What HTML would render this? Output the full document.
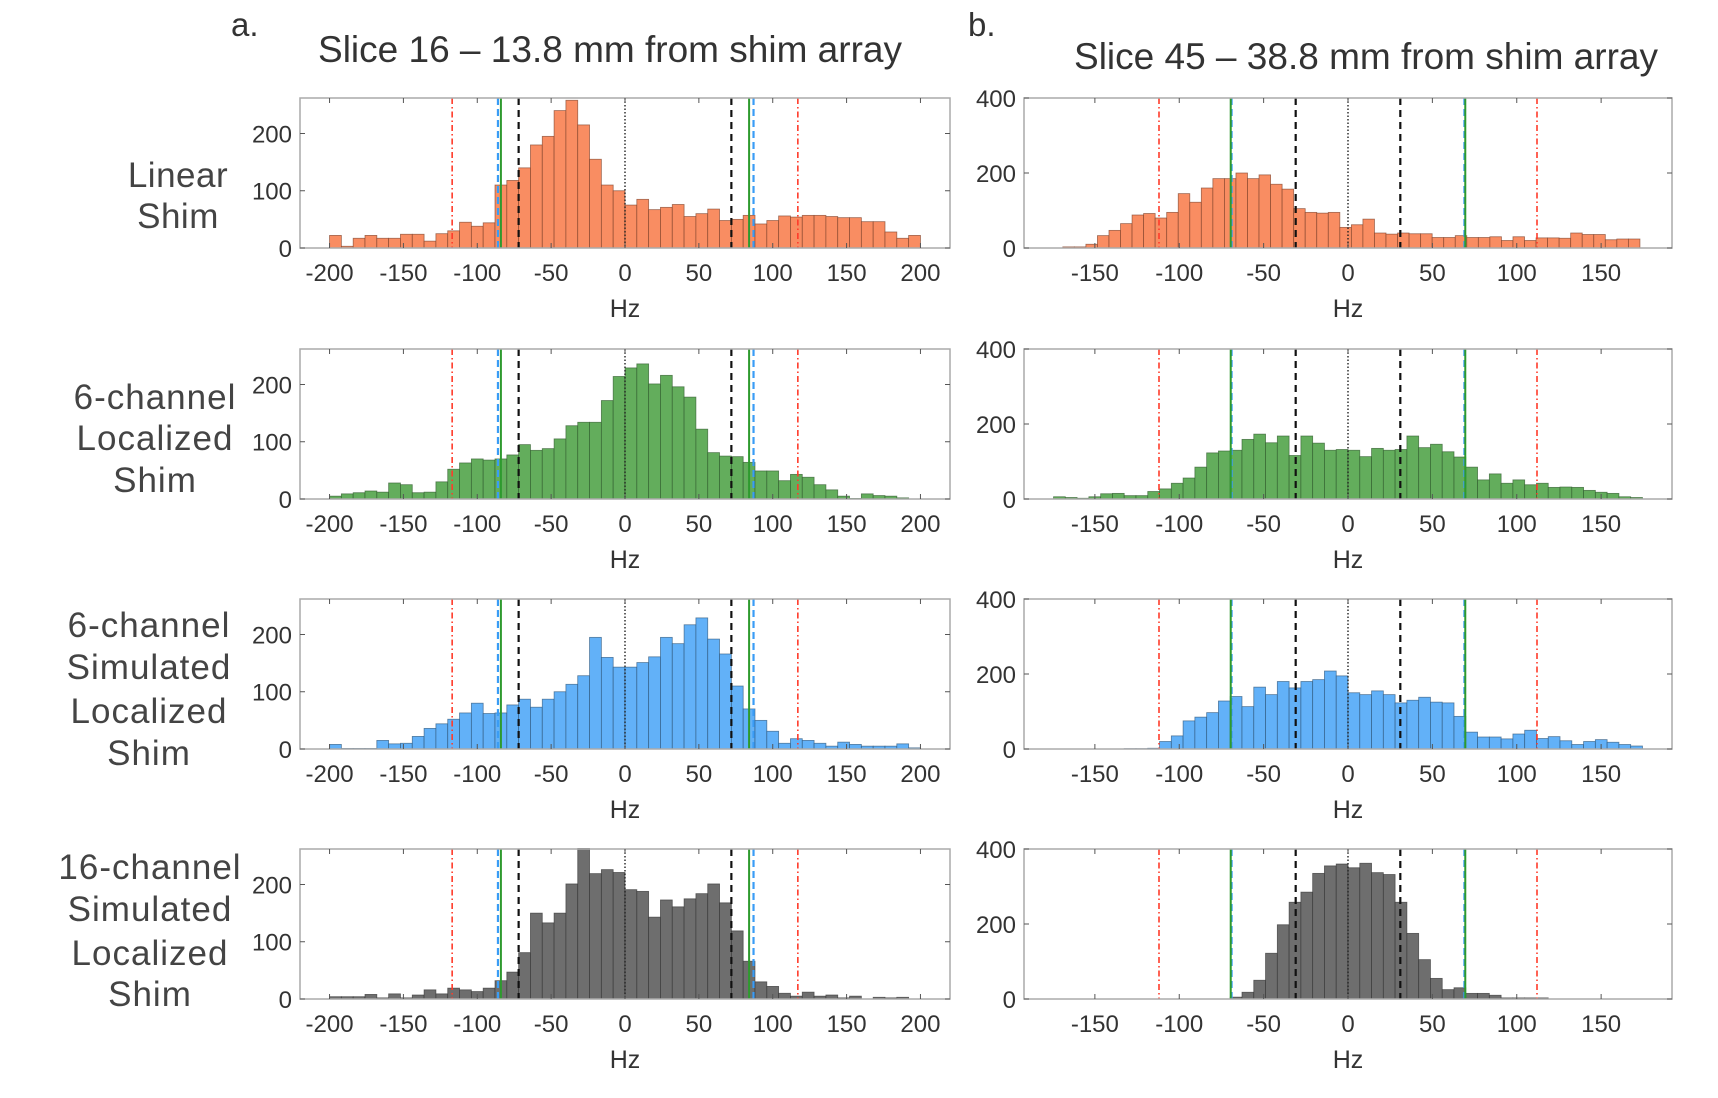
<!DOCTYPE html>
<html><head><meta charset="utf-8"><style>
body{margin:0;background:#fff}
svg{display:block;font-family:"Liberation Sans",Arial,sans-serif}
</style></head><body>
<svg id="fig" width="1718" height="1098" viewBox="0 0 1718 1098" xmlns="http://www.w3.org/2000/svg">
<text x="231" y="36" font-size="33" fill="#333">a.</text>
<text x="610" y="62" font-size="37" fill="#333" text-anchor="middle">Slice 16 – 13.8 mm from shim array</text>
<text x="968" y="36" font-size="33" fill="#333">b.</text>
<text x="1366" y="69" font-size="37" fill="#333" text-anchor="middle">Slice 45 – 38.8 mm from shim array</text>
<g font-size="35" fill="#444" text-anchor="middle" letter-spacing="0.5">
<text x="178" y="187">Linear</text><text x="178" y="228">Shim</text></g>
<g font-size="35" fill="#444" text-anchor="middle" letter-spacing="1">
<text x="155" y="409">6-channel</text><text x="155" y="450">Localized</text><text x="155" y="492">Shim</text></g>
<g font-size="35" fill="#444" text-anchor="middle" letter-spacing="1">
<text x="149" y="637">6-channel</text><text x="149" y="679">Simulated</text><text x="149" y="723">Localized</text><text x="149" y="765">Shim</text></g>
<g font-size="35" fill="#444" text-anchor="middle" letter-spacing="1">
<text x="150" y="879">16-channel</text><text x="150" y="921">Simulated</text><text x="150" y="965">Localized</text><text x="150" y="1006">Shim</text></g>
</svg>
<script>
// Left column (slice 16): 50 bins of 8 Hz from -200
const leftBinStart = -200, leftBinWidth = 8;
const leftLinear = [22,3,17,22,17,17,24,24,12,25,30,45,38,44,110,118,140,180,195,240,258,215,155,110,100,75,85,67,71,76,55,60,68,48,50,57,42,48,56,54,57,57,55,53,53,46,46,28,17,22];
const left6ch = [5,9,11,14,12,28,25,11,12,30,52,63,70,68,70,77,95,85,88,105,128,134,134,172,214,229,236,201,216,196,178,122,81,75,74,64,49,49,32,43,38,25,16,5,1,9,6,5,2,0];
const left6chSim = [8,1,1,1,15,9,10,22,36,44,52,63,80,62,63,77,87,73,87,100,113,128,195,160,143,143,151,161,195,184,217,229,192,166,110,70,50,31,10,18,15,10,5,12,8,5,5,5,9,2];
const left16chSim = [4,4,4,8,2,9,2,7,16,9,19,16,13,19,32,47,81,150,133,150,201,263,219,226,221,191,188,143,173,161,175,184,201,168,119,66,30,22,10,5,12,5,7,2,5,0,3,2,3,0];
// Right column (slice 45)
const rightRow1Start = -169, rightRow1Width = 6.84;
const rightBinStart = -174.5, rightBinWidth = 6.98;
const rightLinear = [3,3,10,33,47,65,88,92,80,95,145,122,160,185,185,200,185,195,170,157,105,95,93,95,55,62,77,40,37,40,38,38,28,28,33,28,28,30,20,30,20,27,27,26,40,36,36,22,24,24];
const right6ch = [6,4,2,6,14,15,9,9,20,27,42,56,85,123,128,130,159,173,150,168,116,168,149,130,132,130,113,135,130,132,168,137,146,126,112,85,51,67,42,51,38,42,31,32,31,23,18,15,6,4];
const right6chSim = [0,0,0,0,0,0,1,1,2,20,35,75,85,97,128,140,113,165,145,180,163,180,185,208,195,150,145,155,145,123,130,138,125,123,87,45,32,32,27,40,50,28,33,22,12,20,25,18,12,8];
const right16chSim = [0,0,0,0,0,0,0,0,0,0,0,0,0,0,0,5,18,50,122,198,258,285,335,355,360,350,362,337,332,258,175,105,55,25,30,15,15,10,3,3,3,3,0,0,0,0,0,0,0,0];
// Tick labels
const leftXTicks = [-200,-150,-100,-50,0,50,100,150,200];
const leftYTicks = [0,100,200];
const rightXTicks = [-150,-100,-50,0,50,100,150];
const rightYTicks = [0,200,400];
// Reference lines (Hz)
const leftRed = [-117,117], leftBlue = [-86,87], leftGreen = [-84,84], leftBlack = [-72,72];
const rightRed = [-112,112], rightBlue = [-69,69], rightGreen = [-69.5,69.5], rightBlack = [-31,31];

const NS = "http://www.w3.org/2000/svg";
const svg = document.getElementById('fig');
function mk(tag, attrs, parent){const e=document.createElementNS(NS,tag);for(const k in attrs)e.setAttribute(k,attrs[k]);(parent||svg).appendChild(e);return e;}

const rowTops = [98,349,599,849], rowH = 150;
const fills = ['#F98D62','#63AD5C','#62B1F8','#6E6E6E'];
const edges = ['#7a3f28','#2f5a2c','#2c5478','#333333'];

function panel(cfg){
  const g = mk('g',{});
  
  
  const x0=cfg.x0,x1=cfg.x1,y0=cfg.top,y1=cfg.top+rowH;
  const sx=v=>x0+(v-cfg.xmin)/(cfg.xmax-cfg.xmin)*(x1-x0);
  const sy=v=>y1-v/cfg.ymax*(y1-y0);
  mk('rect',{x:x0,y:y0,width:x1-x0,height:rowH,fill:'#fff'},g);
  cfg.data.forEach((v,i)=>{
    if(v<=0)return;
    const a=sx(cfg.bs+i*cfg.bw), b=sx(cfg.bs+(i+1)*cfg.bw);
    const r=mk('rect',{x:a,y:sy(v),width:b-a,height:y1-sy(v),fill:cfg.fill,stroke:cfg.edge,'stroke-width':0.8,'stroke-opacity':0.7},g);
    
    
  });
  const vl=(vals,col,dash,w,nm)=>vals.forEach(v=>{const l=mk('line',{x1:sx(v),x2:sx(v),y1:y0,y2:y1,stroke:col,'stroke-width':w,'stroke-dasharray':dash},g);
    
    });
  vl(cfg.red,'#ff3b2a','6 3 1.5 3',1.6,'red-dashdot-line');
  vl(cfg.blue,'#3a9cf5','7 4',2.2,'blue-dashed-line');
  vl(cfg.green,'#2e9a2e','',2,'green-solid-line');
  vl(cfg.black,'#111','7 5',2.2,'black-dashed-line');
  vl([0],'#222','1.5 2',1.4,'zero-dotted-line');
  mk('rect',{x:x0,y:y0,width:x1-x0,height:rowH,fill:'none',stroke:'#aaa','stroke-width':1.5},g);
  cfg.xt.forEach(t=>{const X=sx(t);
    mk('line',{x1:X,x2:X,y1:y1,y2:y1-5,stroke:'#555','stroke-width':1},g);
    mk('line',{x1:X,x2:X,y1:y0,y2:y0+5,stroke:'#555','stroke-width':1},g);
    const tx=mk('text',{x:X,y:y1+33,'font-size':24,fill:'#333','text-anchor':'middle'},g);tx.textContent=t;
    
    });
  cfg.yt.forEach(t=>{const Y=sy(t);
    mk('line',{x1:x0,x2:x0+5,y1:Y,y2:Y,stroke:'#555','stroke-width':1},g);
    mk('line',{x1:x1,x2:x1-5,y1:Y,y2:Y,stroke:'#555','stroke-width':1},g);
    const tx=mk('text',{x:x0-8,y:Y+9,'font-size':24,fill:'#333','text-anchor':'end'},g);tx.textContent=t;
    
    });
  const hz=mk('text',{x:sx(0),y:y1+69,'font-size':25,fill:'#333','text-anchor':'middle'},g);hz.textContent='Hz';
  
  
}
const leftData=[leftLinear,left6ch,left6chSim,left16chSim];
const rightData=[rightLinear,right6ch,right6chSim,right16chSim];
const names=['linear','6ch-localized','6ch-simulated','16ch-simulated'];
for(let r=0;r<4;r++){
  panel({name:'slice16-'+names[r]+'-histogram',x0:300,x1:950,top:rowTops[r],xmin:-220,xmax:220,ymax:262,
    bs:leftBinStart,bw:leftBinWidth,data:leftData[r],fill:fills[r],edge:edges[r],
    red:leftRed,blue:leftBlue,green:leftGreen,black:leftBlack,xt:leftXTicks,yt:leftYTicks});
  panel({name:'slice45-'+names[r]+'-histogram',x0:1024,x1:1672,top:rowTops[r],xmin:-192,xmax:192,ymax:400,
    bs:r===0?rightRow1Start:rightBinStart,bw:r===0?rightRow1Width:rightBinWidth,data:rightData[r],fill:fills[r],edge:edges[r],
    red:rightRed,blue:rightBlue,green:rightGreen,black:rightBlack,xt:rightXTicks,yt:rightYTicks});
}
</script>
</body></html>
